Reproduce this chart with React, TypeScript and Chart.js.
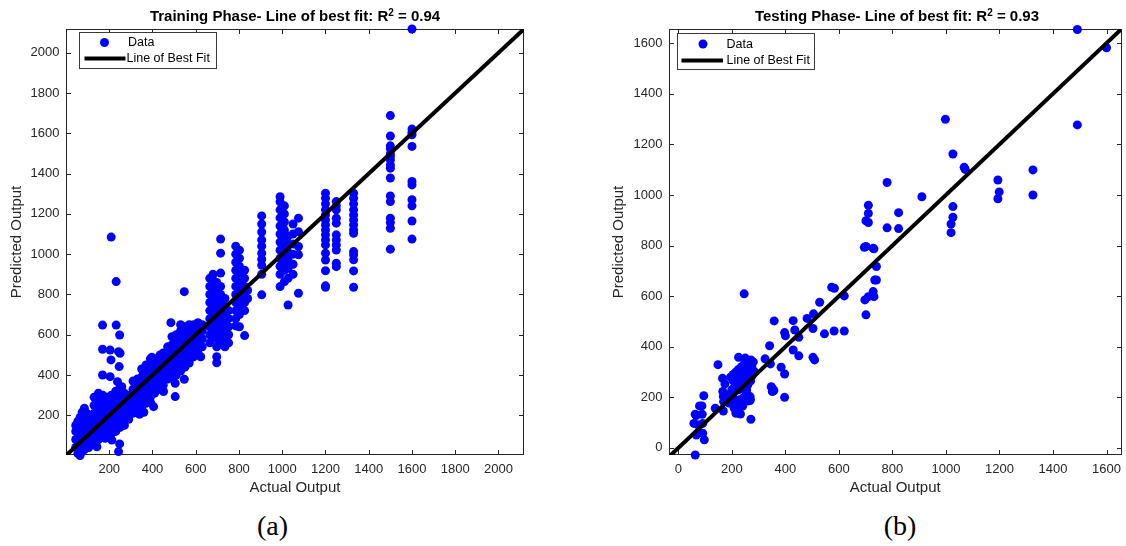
import React, { useEffect, useRef } from "react";
import { Chart, registerables } from "chart.js";

Chart.register(...registerables);
Chart.defaults.font.family = '"Liberation Sans", Arial, Helvetica, sans-serif';

type Column = [number, number[]];
type Pair = [number, number];

// ---------------- Training phase: [actual output, predicted outputs] ----------------
const trainLowBand: Column[] = [
  [45, [40, 80, 120, 150]],
  [55, [10, 50, 90, 130, 170]],
  [65, [0, 30, 70, 110, 150, 190]],
  [75, [20, 60, 100, 140, 180, 215]],
  [85, [30, 70, 110, 150, 190, 235]],
  [95, [50, 90, 130, 170, 210]],
  [105, [40, 80, 120, 160, 200]],
  [115, [60, 100, 140, 180]],
];

const trainSecondBand: Column[] = [
  [130, [90, 130, 170, 210, 250, 290]],
  [150, [80, 120, 160, 200, 240, 280, 310]],
  [170, [100, 140, 180, 220, 260, 300]],
  [190, [90, 130, 170, 210, 250, 290]],
  [210, [110, 150, 190, 230, 270, 300]],
  [230, [120, 160, 200, 240, 280, 320]],
  [250, [140, 180, 220, 260, 300, 340]],
  [270, [150, 190, 230, 270, 310]],
  [290, [180, 220, 260, 300]],
];

const trainSecondOutliers: Pair[] = [
  [143, 44], [181, 86], [212, 77], [248, 58], [243, 20],
  [169, 400], [204, 392], [208, 475], [246, 442], [238, 367], [258, 342],
  [169, 528], [204, 524], [243, 516], [250, 508],
  [169, 648], [232, 648], [248, 599], [232, 864], [209, 1085],
];

const trainThirdBand: Column[] = [
  [310, [210, 250, 290, 330, 370]],
  [330, [220, 260, 300, 340, 380]],
  [350, [230, 270, 310, 350, 390, 430]],
  [370, [260, 300, 340, 380, 420, 450]],
  [390, [290, 330, 370, 410, 450, 480]],
  [410, [310, 350, 390, 430, 470]],
  [430, [330, 370, 410, 450, 490]],
  [450, [350, 390, 430, 470, 510]],
  [470, [380, 420, 460, 500, 540]],
];

const trainThirdOutliers: Pair[] = [
  [397, 488], [435, 500], [405, 243], [392, 262], [451, 318], [340, 205], [360, 215],
];

const trainFourthBand: Column[] = [
  [490, [390, 430, 470, 510, 550, 590]],
  [510, [400, 440, 480, 520, 560, 600]],
  [530, [420, 460, 500, 540, 580, 620, 650]],
  [550, [440, 480, 520, 560, 600, 640]],
  [570, [460, 500, 540, 580, 620, 650]],
  [590, [490, 530, 570, 610, 650]],
  [610, [510, 550, 590, 630, 660]],
  [630, [540, 580, 620, 650]],
];

const trainFourthOutliers: Pair[] = [
  [485, 660], [547, 814], [505, 293], [505, 359], [547, 379], [623, 491],
];

const trainUpperColumns: Column[] = [
  [665, [560, 600, 640, 680, 720, 760, 800, 840, 880]],
  [680, [590, 630, 670, 710, 750, 790, 830, 870, 900]],
  [697, [461, 491, 540, 580, 620, 660, 700, 740, 780, 820, 860]],
  [715, [560, 600, 640, 680, 720, 760, 800, 840, 906, 1005, 1075]],
  [735, [540, 578, 620, 660, 700, 740, 780]],
  [752, [560, 600, 640, 680, 720]],
  [785, [644, 680, 720, 760, 800, 840, 880, 920, 960, 1000, 1040]],
  [802, [640, 700, 740, 780, 820, 860, 900, 940, 980, 1020]],
  [826, [596, 720, 760, 800, 840, 880, 920]],
  [840, [780, 820]],
  [905, [798, 900, 945, 975, 1005, 1040, 1071, 1110, 1150, 1190]],
  [990, [839, 900, 940, 980, 1020, 1060, 1100, 1140, 1180, 1220, 1260, 1285]],
  [1010, [864, 920, 960, 1000, 1040, 1080, 1120, 1160, 1200, 1240]],
  [1027, [748, 880, 930, 970, 1010, 1050, 1090]],
  [1050, [900, 950, 1000, 1050, 1100, 1150]],
  [1075, [806, 997, 1038, 1112, 1179]],
];

const trainTopColumns: Column[] = [
  [1200, [836, 843, 918, 971, 1005, 1046, 1071, 1096, 1120, 1145, 1170, 1195, 1220, 1250, 1278, 1303]],
  [1250, [938, 955, 1021, 1046, 1071, 1096, 1154, 1179, 1220, 1240, 1261]],
  [1330, [836, 917, 972, 997, 1013, 1104, 1120, 1145, 1170, 1195, 1220, 1250, 1278, 1303]],
  [1500, [1025, 1129, 1157, 1179, 1261, 1289, 1378, 1427, 1443, 1468, 1485, 1498, 1523, 1538, 1587, 1688]],
  [1600, [1075, 1165, 1240, 1270, 1344, 1361, 1535, 1593, 1604, 1621, 2118]],
];

// ---------------- Testing phase: [actual output, predicted output] ----------------
const testLow: Pair[] = [
  [63, -28], [97, 32], [79, 61], [91, 58], [67, 51], [58, 97], [91, 97], [73, 91],
  [63, 133], [89, 133], [67, 128], [79, 166], [88, 166], [95, 206],
  [138, 157], [148, 329], [165, 275], [174, 253], [166, 223], [168, 203], [175, 190],
  [169, 183], [168, 146], [190, 177], [196, 216], [203, 203], [209, 157], [215, 137],
  [228, 137], [232, 134], [234, 177], [268, 187], [268, 203], [269, 192], [271, 113],
  [262, 269], [225, 358], [271, 348], [246, 609],
];

const testCluster: Pair[] = [
  [205, 290], [215, 300], [225, 310], [235, 320], [245, 330], [255, 340], [265, 335],
  [275, 320], [270, 300], [255, 295], [240, 285], [225, 270], [215, 255], [230, 245],
  [245, 260], [260, 275], [275, 285], [285, 300], [250, 310], [235, 300], [220, 285],
  [205, 265], [195, 280], [240, 235], [260, 250], [270, 265], [225, 230], [210, 240],
  [255, 230], [280, 340], [250, 355], [200, 230], [215, 180], [230, 190], [245, 200],
  [255, 215], [225, 160], [240, 165], [205, 200], [260, 185],
];

const testMid: Pair[] = [
  [324, 352], [341, 404], [344, 332], [347, 242], [351, 236], [351, 223], [357, 227],
  [358, 502], [384, 319], [397, 292], [397, 200], [397, 456], [400, 443], [429, 503],
  [429, 387], [450, 437], [450, 364], [435, 466], [481, 512], [503, 472], [503, 358],
  [509, 348], [505, 530], [528, 576], [546, 451], [573, 635], [583, 631], [582, 462],
  [620, 601], [620, 462],
];

const testHigh: Pair[] = [
  [701, 526], [697, 585], [710, 598], [731, 598], [728, 618], [734, 664], [740, 664],
  [740, 717], [695, 793], [728, 789], [701, 796], [731, 787], [701, 898], [710, 891],
  [710, 927], [710, 959], [780, 870], [780, 1049], [823, 930], [823, 867], [910, 993],
  [998, 1299], [1019, 851], [1019, 885], [1026, 912], [1026, 954], [1026, 1162],
  [1068, 1109], [1072, 1101], [1194, 985], [1194, 1059], [1199, 1012], [1325, 1000],
  [1325, 1099], [1491, 1277], [1491, 1654], [1600, 1582],
];

// ---------------- Axes ----------------
const trainTicks = [200, 400, 600, 800, 1000, 1200, 1400, 1600, 1800, 2000];
const testTicks = [0, 200, 400, 600, 800, 1000, 1200, 1400, 1600];
const trainXRange: Pair = [0, 2118];
const trainYRange: Pair = [3, 2118];
const testXRange: Pair = [-35, 1656];
const testYRange: Pair = [-28, 1656];

const trainTitle = { lead: "Training Phase- Line of best fit: R", value: " = 0.94" };
const testTitle = { lead: "Testing Phase- Line of best fit: R", value: " = 0.93" };
const legendLabels = ["Data", "Line of Best Fit"];
const xLabel = "Actual Output";
const yLabel = "Predicted Output";

const fromColumns = (cols: Column[]) =>
  cols.flatMap(([x, ys]) => ys.map((y) => ({ x, y })));
const fromPairs = (pairs: Pair[]) => pairs.map(([x, y]) => ({ x, y }));

const trainPoints = [
  ...fromColumns(trainLowBand),
  ...fromColumns(trainSecondBand),
  ...fromPairs(trainSecondOutliers),
  ...fromColumns(trainThirdBand),
  ...fromPairs(trainThirdOutliers),
  ...fromColumns(trainFourthBand),
  ...fromPairs(trainFourthOutliers),
  ...fromColumns(trainUpperColumns),
  ...fromColumns(trainTopColumns),
];

const testPoints = [
  ...fromPairs(testLow),
  ...fromPairs(testCluster),
  ...fromPairs(testMid),
  ...fromPairs(testHigh),
];

const AXIS_COLOR = "#262626";

// Box around the plot with MATLAB-style inward ticks on all four sides.
const framePlugin = {
  id: "frameTicks",
  beforeDatasetsDraw(chart: any) {
    const { ctx, chartArea: a, scales } = chart;
    const xs = scales.x;
    const ys = scales.y;
    const L = Math.round(a.left) + 0.5;
    const R = Math.round(a.right) - 0.5;
    const T = Math.round(a.top) + 0.5;
    const B = Math.round(a.bottom) - 0.5;
    const len = 4.5;
    ctx.save();
    ctx.strokeStyle = AXIS_COLOR;
    ctx.lineWidth = 1;
    ctx.strokeRect(L, T, R - L, B - T);
    ctx.beginPath();
    xs.ticks.forEach((t: any) => {
      const px = Math.round(xs.getPixelForValue(t.value)) + 0.5;
      ctx.moveTo(px, B);
      ctx.lineTo(px, B - len);
      ctx.moveTo(px, T);
      ctx.lineTo(px, T + len);
    });
    ys.ticks.forEach((t: any) => {
      const py = Math.round(ys.getPixelForValue(t.value)) + 0.5;
      ctx.moveTo(L, py);
      ctx.lineTo(L + len, py);
      ctx.moveTo(R, py);
      ctx.lineTo(R - len, py);
    });
    ctx.stroke();
    ctx.restore();
  },
};

// Boxed legend in the upper-left corner of the axes.
const boxLegendPlugin = {
  id: "boxLegend",
  afterDraw(chart: any, _args: any, o: any) {
    const { ctx } = chart;
    ctx.save();
    ctx.fillStyle = "#ffffff";
    ctx.fillRect(o.left, o.top, o.width, o.height);
    ctx.strokeStyle = "#3a3a3a";
    ctx.lineWidth = 1;
    ctx.strokeRect(o.left + 0.5, o.top + 0.5, o.width - 1, o.height - 1);

    ctx.fillStyle = "#0000ff";
    ctx.beginPath();
    ctx.arc(o.dotX, o.row1, 4.5, 0, Math.PI * 2);
    ctx.fill();

    ctx.strokeStyle = "#000000";
    ctx.lineWidth = 4;
    ctx.beginPath();
    ctx.moveTo(o.lineX0, o.row2);
    ctx.lineTo(o.lineX1, o.row2);
    ctx.stroke();

    ctx.fillStyle = "#000000";
    ctx.font = '12.5px "Liberation Sans", Arial, sans-serif';
    ctx.textBaseline = "middle";
    ctx.textAlign = "left";
    ctx.fillText(legendLabels[0], o.text1X, o.row1 + 0.5);
    ctx.fillText(legendLabels[1], o.text2X, o.row2 + 0.5);
    ctx.restore();
  },
};

type PanelSpec = {
  points: { x: number; y: number }[];
  xRange: Pair;
  yRange: Pair;
  ticks: number[];
  yAxisWidth: number;
  rightPad: number;
  yTitlePad: number;
  legend: Record<string, number>;
};

function buildConfig(p: PanelSpec): any {
  const lo = Math.min(p.xRange[0], p.yRange[0]);
  const hi = Math.max(p.xRange[1], p.yRange[1]);
  const fixTicks = (scale: any) => {
    scale.ticks = p.ticks.map((v) => ({ value: v }));
  };
  const plainLabel = (v: any) => String(v);
  const tickFont = { size: 13 };
  const titleFont = { size: 15 };
  return {
    type: "scatter",
    data: {
      datasets: [
        {
          type: "line",
          label: legendLabels[1],
          data: [
            { x: lo, y: lo },
            { x: hi, y: hi },
          ],
          borderColor: "#000000",
          borderWidth: 4,
          pointRadius: 0,
          fill: false,
          clip: 0,
        },
        {
          label: legendLabels[0],
          data: p.points,
          backgroundColor: "#0000ff",
          borderWidth: 0,
          pointRadius: 4.5,
          pointHoverRadius: 4.5,
          clip: false,
        },
      ],
    },
    options: {
      responsive: false,
      animation: false,
      events: [],
      layout: { padding: { left: 0, right: p.rightPad, top: 29, bottom: 0 } },
      plugins: {
        legend: { display: false },
        tooltip: { enabled: false },
        title: { display: false },
        boxLegend: p.legend,
      },
      scales: {
        x: {
          type: "linear",
          position: "bottom",
          min: p.xRange[0],
          max: p.xRange[1],
          afterBuildTicks: fixTicks,
          afterFit: (s: any) => {
            s.height = 45;
            s.paddingLeft = 0;
            s.paddingRight = 0;
          },
          grid: { display: false, drawTicks: false },
          border: { display: false },
          ticks: {
            autoSkip: false,
            maxRotation: 0,
            padding: 6.5,
            color: AXIS_COLOR,
            font: tickFont,
            callback: plainLabel,
          },
          title: {
            display: true,
            text: xLabel,
            color: AXIS_COLOR,
            font: titleFont,
            padding: { top: 0, bottom: 3.5 },
          },
        },
        y: {
          type: "linear",
          position: "left",
          min: p.yRange[0],
          max: p.yRange[1],
          afterBuildTicks: fixTicks,
          afterFit: (s: any) => {
            s.width = p.yAxisWidth;
            s.paddingTop = 0;
            s.paddingBottom = 0;
          },
          grid: { display: false, drawTicks: false },
          border: { display: false },
          ticks: {
            autoSkip: false,
            padding: 6.5,
            color: AXIS_COLOR,
            font: tickFont,
            callback: plainLabel,
          },
          title: {
            display: true,
            text: yLabel,
            color: AXIS_COLOR,
            font: titleFont,
            padding: { top: p.yTitlePad, bottom: 0 },
          },
        },
      },
    },
    plugins: [framePlugin, boxLegendPlugin],
  };
}

function Panel({ spec, left }: { spec: PanelSpec; left: number }) {
  const ref = useRef<HTMLCanvasElement | null>(null);
  useEffect(() => {
    if (!ref.current) return;
    const chart = new Chart(ref.current, buildConfig(spec));
    return () => chart.destroy();
  }, [spec]);
  return (
    <canvas
      ref={ref}
      width={563}
      height={500}
      style={{ position: "absolute", left, top: 0, width: 563, height: 500 }}
    />
  );
}

const trainSpec: PanelSpec = {
  points: trainPoints,
  xRange: trainXRange,
  yRange: trainYRange,
  ticks: trainTicks,
  yAxisWidth: 66,
  rightPad: 39,
  yTitlePad: 8,
  legend: {
    left: 79, top: 32, width: 138, height: 37,
    dotX: 104.5, row1: 42.5, lineX0: 84.5, lineX1: 125.5, row2: 58.5,
    text1X: 128, text2X: 126.5,
  },
};

const testSpec: PanelSpec = {
  points: testPoints,
  xRange: testXRange,
  yRange: testYRange,
  ticks: testTicks,
  yAxisWidth: 106,
  rightPad: 1,
  yTitlePad: 47,
  legend: {
    left: 114, top: 33, width: 138, height: 37,
    dotX: 140, row1: 44, lineX0: 118.5, lineX1: 160, row2: 60.5,
    text1X: 163.5, text2X: 163.5,
  },
};

const titleStyle = (left: number, width: number): React.CSSProperties => ({
  position: "absolute",
  left,
  width,
  top: 7,
  textAlign: "center",
  fontFamily: '"Liberation Sans", Arial, sans-serif',
  fontWeight: "bold",
  fontSize: 15,
  lineHeight: "18px",
  color: "#000",
  whiteSpace: "nowrap",
});

const supStyle: React.CSSProperties = {
  fontSize: 10,
  position: "relative",
  top: -5.5,
  verticalAlign: "baseline",
  lineHeight: 0,
};

const captionStyle = (centerX: number): React.CSSProperties => ({
  position: "absolute",
  left: centerX - 50,
  width: 100,
  top: 510,
  textAlign: "center",
  fontFamily: '"Liberation Serif", "Times New Roman", serif',
  fontSize: 28,
  lineHeight: "32px",
  color: "#000",
});

export default function App() {
  return (
    <div
      style={{
        position: "fixed",
        left: 0,
        top: 0,
        width: 1126,
        height: 546,
        background: "#ffffff",
        overflow: "hidden",
      }}
    >
      <Panel spec={trainSpec} left={0} />
      <Panel spec={testSpec} left={563} />
      <div style={titleStyle(66, 458)}>
        {trainTitle.lead}
        <span style={supStyle}>2</span>
        {trainTitle.value}
      </div>
      <div style={titleStyle(669, 456)}>
        {testTitle.lead}
        <span style={supStyle}>2</span>
        {testTitle.value}
      </div>
      <div style={captionStyle(272.5)}>(a)</div>
      <div style={captionStyle(900)}>(b)</div>
    </div>
  );
}
